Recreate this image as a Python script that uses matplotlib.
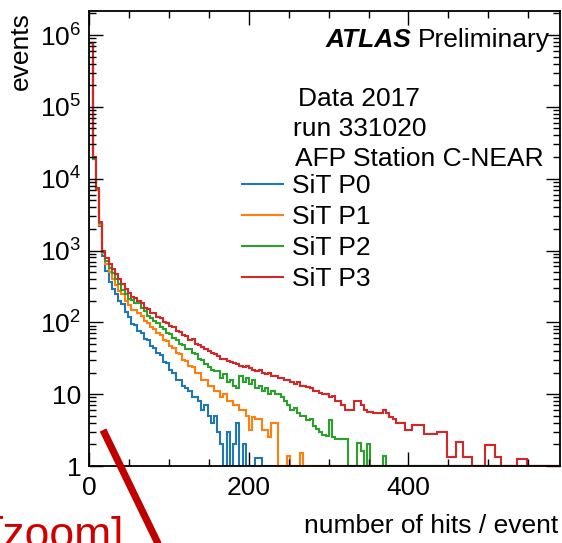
import numpy as np
import matplotlib
matplotlib.use('Agg')
import matplotlib.pyplot as plt
from matplotlib.lines import Line2D
from matplotlib.ticker import (FixedLocator, FuncFormatter, LogLocator,
                               MultipleLocator, NullFormatter)

W, H = 562, 543
BIN_WIDTH = 4
NBINS = 148
edges = np.arange(NBINS + 1) * BIN_WIDTH

series_labels = ['SiT P0', 'SiT P1', 'SiT P2', 'SiT P3']
colors = ['#1f77b4', '#ff7f0e', '#2ca02c', '#d62728']

p0 = [780000, 19000, 7000, 2200, 850, 520, 370, 290, 245, 200, 178, 138,
      118, 96, 92, 76, 70, 58, 57, 47, 44, 37, 35, 28,
      27, 22, 20, 16, 16, 13, 12, 11, 9, 9, 8, 6,
      7, 5, 4, 5, 3, 2, 0, 3, 0, 2, 4, 0,
      2, 0, 0, 0, 1.3, 1.3]

p1 = [780000, 19000, 7000, 2300, 920, 650, 500, 400, 335, 275, 245, 198,
      172, 150, 148, 136, 122, 103, 97, 86, 82, 70, 66, 57,
      55, 47, 44, 38, 36, 30, 29, 25, 24, 20, 20, 16,
      16, 13, 13, 11, 11, 9, 10, 8, 8, 7, 7, 6,
      6, 5, 3.2, 4.8, 4.5, 4.5, 3.2, 3.2, 2.5, 4, 4, 0,
      0, 0, 1.4, 0, 0, 0, 1.5]

p2 = [780000, 19000, 7100, 2400, 960, 720, 580, 480, 400, 345, 285, 252,
      212, 203, 188, 185, 158, 142, 122, 114, 103, 97, 86, 81,
      72, 69, 60, 57, 50, 49, 43, 42, 37, 36, 31, 30,
      26, 24, 22, 21, 21, 17, 19, 15, 16, 13, 12, 18,
      15, 17, 14, 16, 12, 13, 11, 12, 10, 11, 10, 10,
      9, 8, 7, 6, 6.5, 5.5, 5, 5, 4.4, 4.5, 3.6, 3.3,
      3, 2.7, 2.6, 4.4, 2.5, 2.4, 2.4, 2.4, 2.4, 0, 0, 0,
      2.1, 1.6, 0, 2, 0, 0, 0, 0, 1.4]

p3 = [780000, 20000, 7300, 2500, 1000, 780, 650, 560, 470, 400, 340, 290,
      255, 228, 220, 196, 184, 160, 155, 137, 133, 118, 115, 102,
      98, 88, 86, 76, 74, 66, 64, 57, 58, 50, 49, 45,
      42, 40, 37, 36, 34, 31, 31, 29, 28, 27, 26, 25,
      24, 25, 23, 22, 21, 22, 20, 19, 20, 18, 18, 17,
      17, 16, 16, 15, 14, 15, 13, 13, 12.5, 12, 11, 11,
      10.5, 10, 10, 9, 9.5, 8, 8, 7, 6, 6, 6, 8,
      8, 7, 6, 5.6, 5.6, 5.5, 5.5, 5.5, 6, 5.5, 4.8, 4.5,
      4, 4, 4, 3.2, 3.2, 3.7, 3.7, 3.7, 3.7, 2.75, 2.75, 2.75,
      2.75, 2.95, 2.95, 2.95, 1.35, 1.35, 1.35, 2.15, 2.15, 1.35, 1.35, 1.35,
      0, 0, 0, 0, 1.95, 1.95, 1.95, 1.35, 1.35, 0, 0, 0,
      0, 0, 1.25, 1.25, 1.25]

series = [p0, p1, p2, p3]

x_major = [0, 200, 400]
y_major = [1, 10, 1e2, 1e3, 1e4, 1e5, 1e6]
header_lines = ['Data 2017', 'run 331020', 'AFP Station C-NEAR']


def pad(v):
    return np.array(list(v) + [0] * (NBINS - len(v)), dtype=float)


plt.rcParams['font.family'] = ['Liberation Sans', 'DejaVu Sans']
plt.rcParams['mathtext.fontset'] = 'custom'
plt.rcParams['mathtext.rm'] = 'Liberation Sans'
plt.rcParams['mathtext.it'] = 'Liberation Sans:italic'
plt.rcParams['mathtext.bf'] = 'Liberation Sans:bold'

FS = 19

fig = plt.figure(figsize=(W / 100, H / 100), dpi=100)
fig.patch.set_facecolor('white')


def fx(x):
    return x / W


def fy(y):
    return 1 - y / H


ax = fig.add_axes([fx(89.5), fy(466), (560 - 89.5) / W, (466 - 11) / H])

for vals, c, lab in zip(series, colors, series_labels):
    ax.stairs(np.maximum(pad(vals), 1.0), edges, color=c, lw=1.5,
              baseline=None)

ax.set_yscale('log')
ax.set_xlim(0, 590)
ax.set_ylim(1, 2.16e6)

ax.xaxis.set_major_locator(FixedLocator(x_major))
ax.xaxis.set_minor_locator(MultipleLocator(50))
ax.yaxis.set_major_locator(FixedLocator(y_major))
ax.yaxis.set_minor_locator(LogLocator(base=10, subs=np.arange(2, 10), numticks=30))
ax.yaxis.set_minor_formatter(NullFormatter())


def yfmt(v, pos):
    e = int(round(np.log10(v)))
    if e == 0:
        return '1'
    if e == 1:
        return '10'
    return r'$10^{%d}$' % e


ax.yaxis.set_major_formatter(FuncFormatter(yfmt))
ax.tick_params(which='both', direction='in', top=True, right=True,
               labelsize=FS, width=1.0, colors='black')
ax.tick_params(which='major', length=10)
ax.tick_params(which='minor', length=5)
ax.tick_params(axis='y', pad=6)
ax.tick_params(axis='x', pad=7)
for s in ax.spines.values():
    s.set_linewidth(1.3)

# axis titles (ROOT style, aligned to the ends of the axes)
fig.text(fx(558), fy(533), 'number of hits / event', ha='right',
         va='baseline', fontsize=FS)
fig.text(fx(21), fy(12), 'events', rotation=90, ha='center', va='top',
         fontsize=FS)

# ATLAS Preliminary
tp = fig.text(fx(550), fy(47), 'Preliminary', ha='right', va='baseline',
              fontsize=FS)
fig.canvas.draw()
bb = tp.get_window_extent()
fig.text((bb.x0 - 7) / W, fy(47), 'ATLAS', ha='right', va='baseline',
         fontsize=FS, fontweight='bold', fontstyle='italic')

# header lines
header_x = [298, 293, 295]
header_y = [99, 129, 159]
for t, x, y in zip(header_lines, header_x, header_y):
    fig.text(fx(x), fy(y), t, ha='left', va='center', fontsize=FS)

handles = [Line2D([], [], color=c, lw=1.5) for c in colors]
leg = fig.legend(handles, series_labels, loc='upper left',
                 bbox_to_anchor=(fx(242), fy(190 - 16)),
                 bbox_transform=fig.transFigure, frameon=False,
                 fontsize=FS, handlelength=1.55, handletextpad=0.35,
                 labelspacing=0.27, borderpad=0, borderaxespad=0)

# red annotation overlay
fig.add_artist(Line2D([fx(103), fx(166)], [fy(430), fy(560)],
                      transform=fig.transFigure, color='#c00000', lw=5.2,
                      solid_capstyle='butt', zorder=5))
fig.text(fx(-9), fy(548), '[zoom]', color='#d00000', fontsize=32,
         ha='left', va='baseline', zorder=6)

fig.savefig('out.png', dpi=100)
